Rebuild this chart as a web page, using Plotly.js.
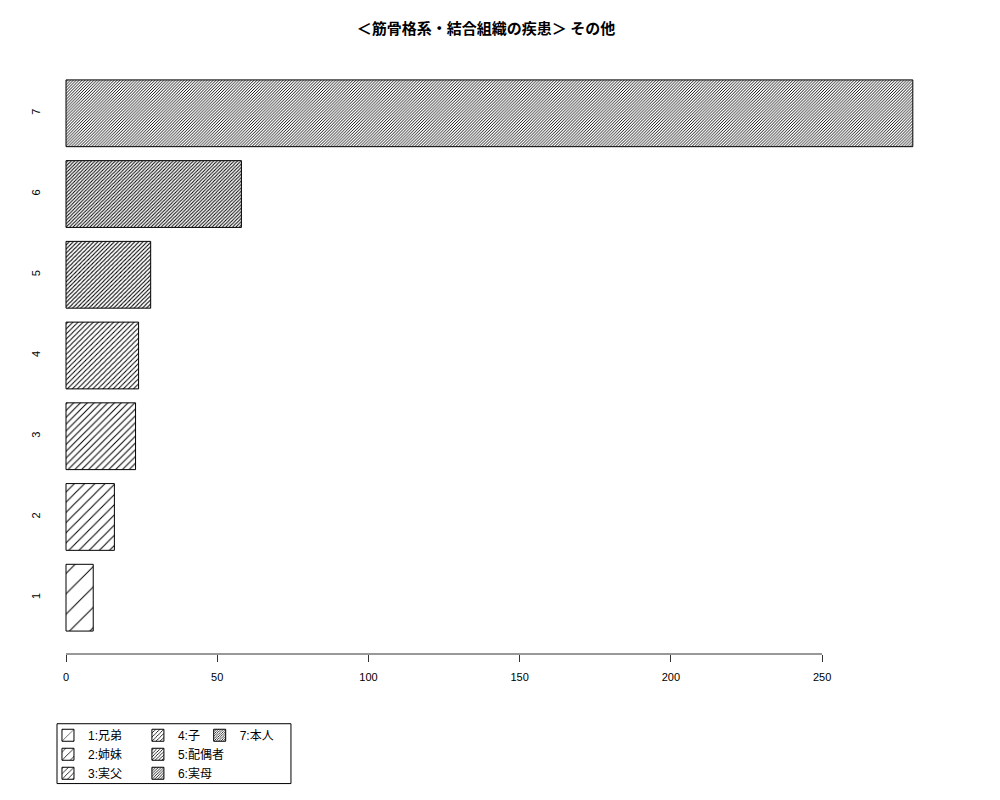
<!DOCTYPE html>
<html>
<head>
<meta charset="utf-8">
<script src="https://cdn.plot.ly/plotly-3.0.1.min.js"></script>
<style>
  body { margin: 0; background: #fff; }
  #chart { width: 1000px; height: 800px; }
</style>
</head>
<body>
<div id="chart"></div>
<script>
// categories (bottom to top) and counts
let categories = ['1', '2', '3', '4', '5', '6', '7'];
let counts = [9, 16, 23, 24, 28, 58, 280];
let names = ['1:兄弟', '2:姉妹', '3:実父', '4:子', '5:配偶者', '6:実母', '7:本人'];
let xTicks = [0, 50, 100, 150, 200, 250];

// hatch spacing per bar (pattern size px = line spacing, solidity ~ line width)
let hatchSize = [14.4, 7.2, 4.8, 3.6, 2.9, 2.4, 2.06];
let hatchSolid = [0.07, 0.14, 0.21, 0.28, 0.35, 0.42, 0.44];

// which legend column each entry goes in
let legendCol = ['legend', 'legend', 'legend', 'legend2', 'legend2', 'legend2', 'legend3'];

let font = 'Liberation Sans, Arial, Noto Sans CJK JP, sans-serif';

let data = [];
for (let i = 0; i < categories.length; i++) {
    data.push({
        type: 'bar',
        orientation: 'h',
        name: names[i],
        y: [categories[i]],
        x: [counts[i]],
        width: 0.827,
        legend: legendCol[i],
        hoverinfo: 'x+name',
        marker: {
            color: 'white',
            line: { color: 'black', width: 1 },
            pattern: {
                shape: '/',
                fgcolor: 'black',
                bgcolor: 'white',
                size: hatchSize[i],
                solidity: hatchSolid[i],
            },
        },
    });
}

let legendBase = {
    orientation: 'v',
    yanchor: 'top',
    xanchor: 'left',
    y: -0.112,
    bgcolor: 'rgba(0,0,0,0)',
    borderwidth: 0,
    traceorder: 'normal',
    font: { family: font, size: 12, color: 'black' },
};

let layout = {
    width: 1000,
    height: 800,
    paper_bgcolor: 'white',
    plot_bgcolor: 'white',
    margin: { l: 52, r: 53, t: 58, b: 144 },
    barmode: 'overlay',
    showlegend: true,
    title: {
        text: '＜筋骨格系・結合組織の疾患＞ その他',
        font: { family: 'Noto Sans CJK JP, sans-serif', size: 15, color: 'black', weight: 'bold' },
        x: 0.486,
        xanchor: 'center',
        y: 0.964,
        yanchor: 'middle',
    },
    xaxis: {
        range: [-4.63, 291.3],
        tickvals: xTicks,
        ticktext: xTicks.map(String),
        ticks: 'outside',
        ticklen: 7,
        tickcolor: '#333',
        ticklabelstandoff: 6,
        showline: false,
        showgrid: false,
        zeroline: false,
        tickfont: { family: font, size: 11, color: 'black' },
    },
    yaxis: {
        type: 'category',
        categoryorder: 'array',
        categoryarray: categories,
        range: [-0.6975, 6.685],
        ticks: '',
        showline: false,
        showgrid: false,
        zeroline: false,
        tickangle: -90,
        ticklabelstandoff: 9,
        tickfont: { family: font, size: 11, color: 'black' },
    },
    legend: Object.assign({}, legendBase, { x: -0.0045 }),
    legend2: Object.assign({}, legendBase, { x: 0.096 }),
    legend3: Object.assign({}, legendBase, { x: 0.165 }),
    shapes: [
        // x axis line only spans the tick range
        {
            type: 'line', xref: 'x', yref: 'paper',
            x0: xTicks[0], x1: xTicks[xTicks.length - 1], y0: 0, y1: 0,
            line: { color: '#333', width: 1 },
        },
        // legend box
        {
            type: 'rect', xref: 'paper', yref: 'paper',
            x0: 0.0056, x1: 0.267, y0: -0.2174, y1: -0.117,
            line: { color: 'black', width: 1 },
        },
    ],
};

Plotly.newPlot('chart', data, layout, { displayModeBar: false });
</script>
</body>
</html>
